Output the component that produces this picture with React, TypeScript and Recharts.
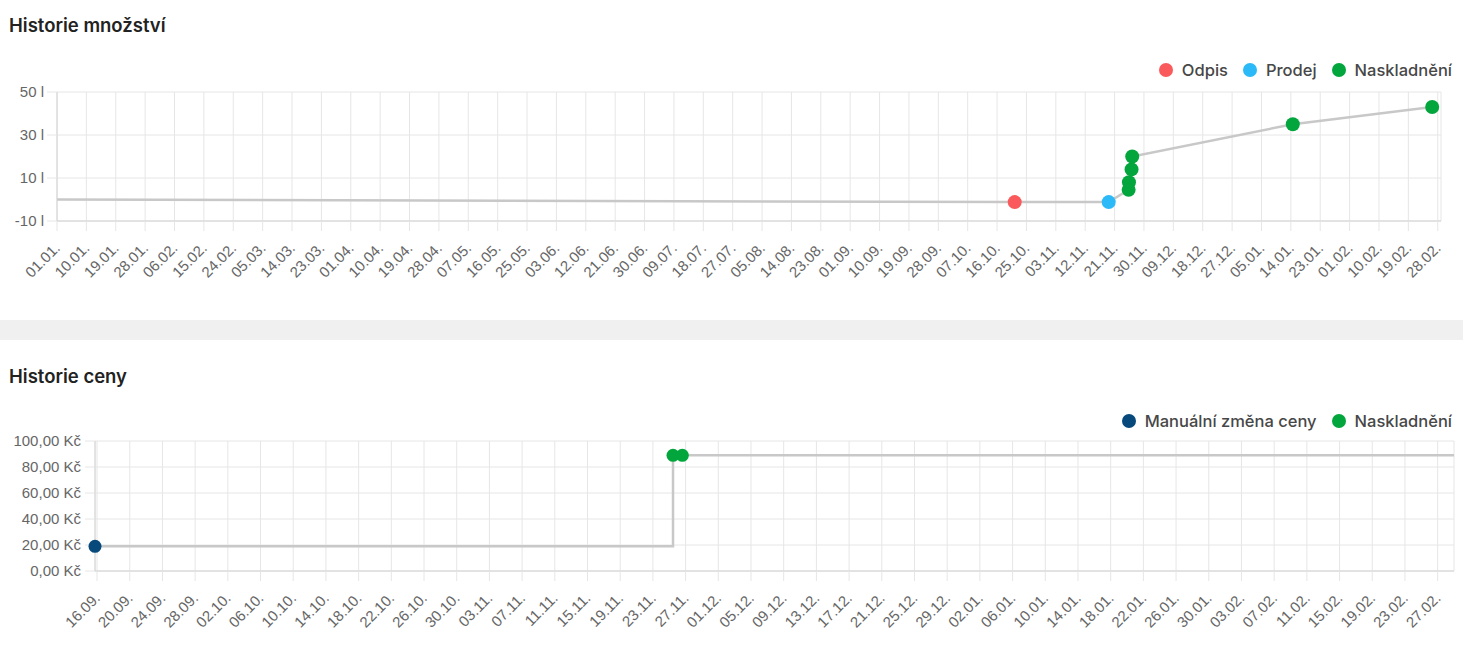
import React from 'react';
import { ComposedChart, Line, XAxis, YAxis, CartesianGrid } from 'recharts';

// Historie množství (days counted from 01.01.)
const qtyDays = [0, 293.4, 322.2, 328.3, 328.4, 329.2, 329.4, 378.6, 421.3];
const qtyValues = [0, -1.2, -1.2, 4.5, 8, 14, 20, 35, 43];
const qtyTypes = ['', 'odpis', 'prodej', 'naskladneni', 'naskladneni', 'naskladneni', 'naskladneni', 'naskladneni', 'naskladneni'];
const qtyTickLabels = [
  '01.01.', '10.01.', '19.01.', '28.01.', '06.02.', '15.02.', '24.02.', '05.03.', '14.03.', '23.03.',
  '01.04.', '10.04.', '19.04.', '28.04.', '07.05.', '16.05.', '25.05.', '03.06.', '12.06.', '21.06.',
  '30.06.', '09.07.', '18.07.', '27.07.', '05.08.', '14.08.', '23.08.', '01.09.', '10.09.', '19.09.',
  '28.09.', '07.10.', '16.10.', '25.10.', '03.11.', '12.11.', '21.11.', '30.11.', '09.12.', '18.12.',
  '27.12.', '05.01.', '14.01.', '23.01.', '01.02.', '10.02.', '19.02.', '28.02.',
];
const qtyYTicks = [-10, 10, 30, 50];

// Historie ceny (days counted from 16.09.)
const priceDays = [-0.25, 70.46, 71.6, 166];
const priceValues = [19, 89, 89, 89];
const priceTypes = ['manual', 'naskladneni', 'naskladneni', ''];
const priceTickLabels = [
  '16.09.', '20.09.', '24.09.', '28.09.', '02.10.', '06.10.', '10.10.', '14.10.', '18.10.', '22.10.',
  '26.10.', '30.10.', '03.11.', '07.11.', '11.11.', '15.11.', '19.11.', '23.11.', '27.11.', '01.12.',
  '05.12.', '09.12.', '13.12.', '17.12.', '21.12.', '25.12.', '29.12.', '02.01.', '06.01.', '10.01.',
  '14.01.', '18.01.', '22.01.', '26.01.', '30.01.', '03.02.', '07.02.', '11.02.', '15.02.', '19.02.',
  '23.02.', '27.02.',
];
const priceYTicks = [0, 20, 40, 60, 80, 100];

const colors: Record<string, string> = {
  odpis: '#fa5a5c',
  prodej: '#2cb9f7',
  naskladneni: '#03a63c',
  manual: '#06497a',
};

const qtyData = qtyDays.map((day, i) => ({ day, value: qtyValues[i], type: qtyTypes[i] }));
const priceData = priceDays.map((day, i) => ({ day, value: priceValues[i], type: priceTypes[i] }));

const tickFont = '"Liberation Sans", Arial, sans-serif';
const uiFont = 'Inter, "Noto Sans", sans-serif';
const gridColor = '#e6e6e6';
const axisColor = '#d2d2d2';

const makeDot = (r: number) => (p: any) => {
  const c = colors[p.payload.type];
  if (!c) return <g key={p.key ?? p.index} />;
  return <circle key={p.key ?? p.index} cx={p.cx} cy={p.cy} r={r} fill={c} />;
};

const dateTick = (labels: string[], step: number) => (p: any) => {
  const label = labels[Math.round(p.payload.value / step)];
  const x = p.x + 4;
  const y = p.y + 16;
  return (
    <text
      x={x}
      y={y}
      transform={`rotate(-45, ${x}, ${y})`}
      textAnchor="end"
      fill="#666"
      fontSize={15}
      fontFamily={tickFont}
    >
      {label}
    </text>
  );
};

const Title = ({ text, top }: { text: string; top: number }) => (
  <div
    style={{
      position: 'absolute', left: 9, top, fontFamily: uiFont, fontSize: 18.5, fontWeight: 600,
      lineHeight: '20px', color: '#222', whiteSpace: 'nowrap',
    }}
  >
    {text}
  </div>
);

const LegendRow = ({ items, top }: { items: { label: string; type: string }[]; top: number }) => (
  <div
    style={{
      position: 'absolute', right: 11, top, display: 'flex', alignItems: 'center', gap: 15,
      fontFamily: uiFont, fontSize: 16.5, fontWeight: 500, lineHeight: '20px', color: '#474747',
    }}
  >
    {items.map((it) => (
      <div key={it.label} style={{ display: 'flex', alignItems: 'center', gap: 9 }}>
        <span style={{ width: 14, height: 14, borderRadius: 7, background: colors[it.type], display: 'inline-block' }} />
        <span>{it.label}</span>
      </div>
    ))}
  </div>
);

const yTick = { fill: '#666', fontSize: 15, fontFamily: tickFont };

export default function App() {
  const qtyTicks = qtyTickLabels.map((_, i) => i * 9);
  const priceTicks = priceTickLabels.map((_, i) => i * 4);
  return (
    <div style={{ position: 'absolute', left: 0, top: 0, width: 1463, height: 652, background: '#fff', overflow: 'hidden' }}>
      <Title text="Historie množství" top={15} />
      <LegendRow
        top={60}
        items={[
          { label: 'Odpis', type: 'odpis' },
          { label: 'Prodej', type: 'prodej' },
          { label: 'Naskladnění', type: 'naskladneni' },
        ]}
      />
      <div style={{ position: 'absolute', left: 0, top: 0 }}>
        <ComposedChart width={1463} height={300} data={qtyData} margin={{ top: 92, right: 22, bottom: 0, left: 0 }}>
          <CartesianGrid stroke={gridColor} />
          <XAxis
            dataKey="day"
            type="number"
            domain={[0, 424]}
            ticks={qtyTicks}
            interval={0}
            height={79}
            tickSize={10}
            tickLine={{ stroke: gridColor }}
            axisLine={{ stroke: axisColor }}
            tick={dateTick(qtyTickLabels, 9)}
          />
          <YAxis
            type="number"
            domain={[-10, 50]}
            ticks={qtyYTicks}
            interval={0}
            width={57}
            tickSize={10}
            tickMargin={3}
            tickLine={{ stroke: gridColor }}
            axisLine={{ stroke: axisColor }}
            tick={yTick}
            tickFormatter={(v: number) => `${v} l`}
          />
          <Line
            dataKey="value"
            type="linear"
            stroke="#c8c8c8"
            strokeWidth={2.5}
            dot={makeDot(7)}
            activeDot={false}
            isAnimationActive={false}
          />
        </ComposedChart>
      </div>

      <div style={{ position: 'absolute', left: 0, top: 320, width: 1463, height: 20, background: '#f0f0f0' }} />

      <Title text="Historie ceny" top={366} />
      <LegendRow
        top={411}
        items={[
          { label: 'Manuální změna ceny', type: 'manual' },
          { label: 'Naskladnění', type: 'naskladneni' },
        ]}
      />
      <div style={{ position: 'absolute', left: 0, top: 340 }}>
        <ComposedChart width={1463} height={312} data={priceData} margin={{ top: 101, right: 9, bottom: 0, left: 0 }}>
          <CartesianGrid stroke={gridColor} />
          <XAxis
            dataKey="day"
            type="number"
            domain={[-0.25, 166]}
            ticks={priceTicks}
            interval={0}
            height={81}
            tickSize={10}
            tickLine={{ stroke: gridColor }}
            axisLine={{ stroke: axisColor }}
            tick={dateTick(priceTickLabels, 4)}
          />
          <YAxis
            type="number"
            domain={[0, 100]}
            ticks={priceYTicks}
            interval={0}
            width={95}
            tickSize={10}
            tickMargin={4}
            tickLine={{ stroke: gridColor }}
            axisLine={{ stroke: axisColor }}
            tick={yTick}
            tickFormatter={(v: number) => `${v.toFixed(2).replace('.', ',')} Kč`}
          />
          <Line
            dataKey="value"
            type="stepAfter"
            stroke="#c8c8c8"
            strokeWidth={2.5}
            dot={makeDot(6.5)}
            activeDot={false}
            isAnimationActive={false}
          />
        </ComposedChart>
      </div>
    </div>
  );
}
